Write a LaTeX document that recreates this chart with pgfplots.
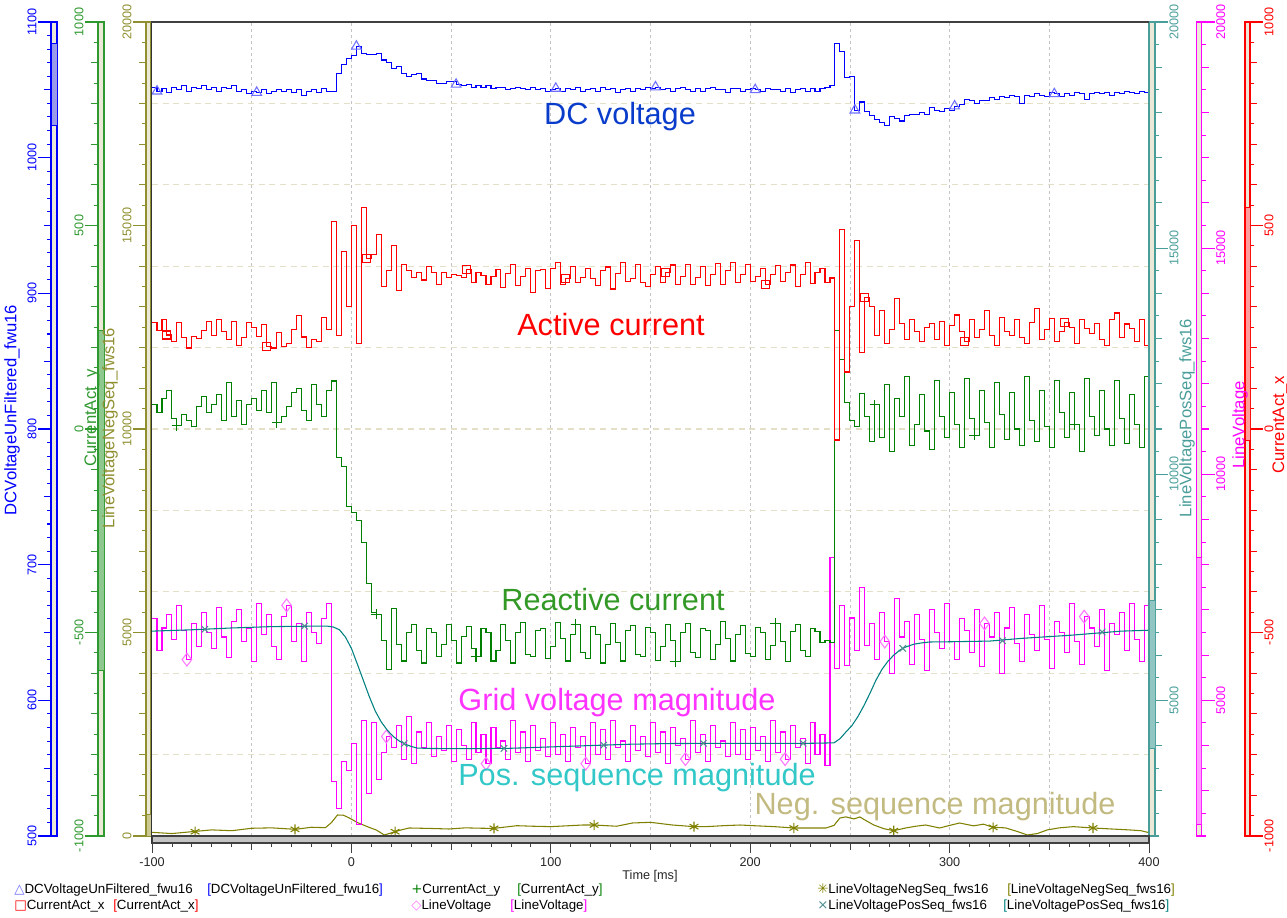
\documentclass[border=0pt]{standalone}
\usepackage{fontspec}
\setmainfont{Liberation Sans}
\newfontfamily\symfont{DejaVu Sans}
\usepackage{pgfplots}
\pgfplotsset{compat=1.18}

\definecolor{dcblue}{HTML}{0000FF}
\definecolor{dcbluel}{HTML}{9A9AEA}
\definecolor{trimark}{HTML}{7070FF}
\definecolor{cxred}{HTML}{FF0000}
\definecolor{cxredl}{HTML}{FF9C9C}
\definecolor{cygreen}{HTML}{008000}
\definecolor{cyaxis}{HTML}{2E992E}
\definecolor{cygreenl}{HTML}{8FC88F}
\definecolor{lvmag}{HTML}{FF00FF}
\definecolor{lvmagl}{HTML}{FF9CFF}
\definecolor{lvmark}{HTML}{FF77FF}
\definecolor{negol}{HTML}{808000}
\definecolor{negaxis}{HTML}{8F8F30}
\definecolor{negoll}{HTML}{CBC991}
\definecolor{posteal}{HTML}{008080}
\definecolor{posaxis}{HTML}{4A9E9A}
\definecolor{postl}{HTML}{92C6C2}
\definecolor{posmark}{HTML}{4F8F8F}
\definecolor{barbg}{HTML}{ECE9D8}
\definecolor{bandgray}{HTML}{C4C4C4}
\definecolor{vgrid}{HTML}{C4C4C4}
\definecolor{hgrid}{HTML}{E4E0C8}
\definecolor{txtblue}{HTML}{0A3CCC}
\definecolor{txtgreen}{HTML}{339926}
\definecolor{txtmag}{HTML}{FF33FF}
\definecolor{txtteal}{HTML}{33C8C8}
\definecolor{txtneg}{HTML}{C2BA80}

\newcommand\tickfont{\fontsize{9.5}{11}\selectfont}
\newcommand\legfont{\fontsize{10}{12}\selectfont}
\newcommand\titlefont{\fontsize{12.5}{14}\selectfont}
\newcommand\bigfont{\fontsize{23}{27}\selectfont}

\pgfplotsset{
  plotarea/.style={
    scale only axis, width=747.75pt, height=610.5pt,
    at={(114pt,60.75pt)}, anchor=south west,
    xmin=-100, xmax=400, clip=true,
  },
  dataaxis/.style={plotarea, hide axis},
  sidebar/.style={
    scale only axis, height=610.5pt, anchor=south west,
    xmin=0, xmax=1, xtick=\empty,
    axis background/.style={fill=barbg},
    tick align=outside, scaled y ticks=false,
    major tick length=9.75pt, minor tick length=3pt,
    extra tick style={major tick length=5.25pt},
    extra y tick labels={},
    yticklabel style={rotate=90, font=\tickfont, inner sep=1pt},
    /pgf/number format/assume math mode=true,
    /pgf/number format/1000 sep={},
  },
  leftbar/.style={sidebar, ytick pos=left, yticklabel style={anchor=south, text=#1},
    axis line style={draw=#1, line width=0.8pt}, tick style={draw=#1, line width=0.8pt}},
  rightbar/.style={sidebar, ytick pos=right, yticklabel pos=right, yticklabel style={anchor=north, text=#1},
    axis line style={draw=#1, line width=0.8pt}, tick style={draw=#1, line width=0.8pt}},
}

\begin{document}
\begin{tikzpicture}
\useasboundingbox (0,0) rectangle (965.25pt,687.75pt);

% grid lines of the plot area
\begin{axis}[plotarea, ymin=0, ymax=20000,
  axis line style={draw=none}, major tick length=0pt, tick style={draw=none},
  xtick={-50,0,...,350}, ytick={2000,4000,...,18000},
  xticklabels={}, yticklabels={},
  xmajorgrids, ymajorgrids,
  x grid style={vgrid, line width=0.6pt, dash pattern=on 2.5pt off 2pt},
  y grid style={hgrid, line width=0.8pt, dash pattern=on 4.5pt off 3.5pt}]
\end{axis}

% negative sequence magnitude
\begin{axis}[dataaxis, ymin=0, ymax=20000]
\addplot[negol, line width=0.8pt] coordinates {
(-100,90) (-90,60) (-80,106) (-70,150) (-60,130) (-50,190) (-40,200) (-28,164)
(-20,215) (-13,205) (-10,330) (-7,516) (-4,510) (-1,442) (3,330) (6,270)
(9,210) (12.5,147) (16.5,25) (22,106) (25,150) (29,197) (40,185) (49,172)
(57,200) (66,190) (71.5,188) (83,253) (91,240) (100,230) (108,250) (116,270)
(121.7,270) (133,240) (141,320) (150,336) (161,270) (171.8,230) (178,230) (187,255)
(195,270) (203,250) (212,230) (221.9,197) (228,197) (238,197) (242,260) (245,442)
(248,470) (252,420) (255,467) (258,380) (262,270) (267,180) (272,131) (278,197)
(283,240) (288,270) (295,197) (300,260) (305,319) (312,250) (317,290) (321.8,213)
(328,200) (334,110) (339,25) (344,60) (349,150) (355,200) (362,230) (371.9,197)
(382,170) (390,150) (396,130) (400,82)};
\addplot[only marks, mark=asterisk, mark size=3.8pt, mark options={draw=negol, line width=0.8pt}] coordinates {
(-78.4,106) (-28.3,164) (21.9,106) (71.5,188) (121.7,270) (171.8,230) (221.9,197) (272,131) (321.8,213) (371.9,197)};
\end{axis}

% grid voltage magnitude
\begin{axis}[dataaxis, ymin=2000, ymax=20000]
\addplot[lvmag, line width=0.8pt, const plot, mark=diamond, mark size=4.8pt,
  mark options={draw=lvmark, fill=none, line width=0.8pt},
  mark indices={8,28,48,68,88,108,128,148,168,188}] coordinates {
(-100,6800) (-97.5,6100) (-95,6600) (-92.5,6900) (-90,6350) (-87.5,7100) (-85,6550) (-82.5,5900)
(-80,6700) (-77.5,6200) (-75,6950) (-72.5,6500) (-70,6150) (-67.5,7050) (-65,6400) (-62.5,5950)
(-60,6750) (-57.5,7000) (-55,6300) (-52.5,6600) (-50,5850) (-47.5,7150) (-45,6450) (-42.5,6900)
(-40,6200) (-37.5,5900) (-35,6850) (-32.5,7100) (-30,6300) (-27.5,6700) (-25,5850) (-22.5,6950)
(-20,6500) (-17.5,6250) (-15,6800) (-12.5,7150) (-10,3200) (-7.5,2600) (-5,3650) (-2.5,3450)
(0,4050) (2.5,2250) (5,4550) (7.5,2950) (10,4500) (12.5,3250) (15,3850) (17.5,4200)
(20,3950) (22.5,4450) (25,3700) (27.5,4650) (30,3600) (32.5,4300) (35,3950) (37.5,4500)
(40,3750) (42.5,4200) (45,3900) (47.5,4450) (50,3650) (52.5,4350) (55,4000) (57.5,3700)
(60,4500) (62.5,3850) (65,4250) (67.5,3600) (70,4400) (72.5,3950) (75,4100) (77.5,3700)
(80,4550) (82.5,3850) (85,4300) (87.5,3650) (90,4450) (92.5,3900) (95,4150) (97.5,3750)
(100,4500) (102.5,3800) (105,4250) (107.5,3650) (110,4400) (112.5,3950) (115,4200) (117.5,3600)
(120,4500) (122.5,3800) (125,4350) (127.5,3700) (130,4550) (132.5,3950) (135,4100) (137.5,3650)
(140,4450) (142.5,3900) (145,4200) (147.5,3750) (150,4500) (152.5,3850) (155,4300) (157.5,3600)
(160,4400) (162.5,4000) (165,4150) (167.5,3700) (170,4550) (172.5,3850) (175,4250) (177.5,3650)
(180,4450) (182.5,3950) (185,4100) (187.5,3750) (190,4500) (192.5,3800) (195,4350) (197.5,3700)
(200,4400) (202.5,3900) (205,4200) (207.5,3650) (210,4550) (212.5,3850) (215,4300) (217.5,3700)
(220,4450) (222.5,3950) (225,4150) (227.5,3600) (230,4500) (232.5,3800) (235,4250) (237.5,3550)
(240,8150) (242.5,5700) (245,7100) (247.5,5780) (250,6820) (252.5,6100) (255,7500) (257.5,6220)
(260,6700) (262.5,5900) (265,6950) (267.5,6300) (270,5600) (272.5,7250) (275,6400) (277.5,6750)
(280,5800) (282.5,6900) (285,6350) (287.5,5650) (290,7000) (292.5,6500) (295,6150) (297.5,7150)
(300,6300) (302.5,5900) (305,6800) (307.5,6550) (310,6050) (312.5,7000) (315,5750) (317.5,6700)
(320,6400) (322.5,6950) (325,5600) (327.5,6600) (330,7050) (332.5,6250) (335,5850) (337.5,6900)
(340,6450) (342.5,6100) (345,7100) (347.5,6350) (350,5700) (352.5,6750) (355,6500) (357.5,6050)
(360,7150) (362.5,6300) (365,5800) (367.5,6850) (370,6600) (372.5,6200) (375,7000) (377.5,5650)
(380,6700) (382.5,6450) (385,6950) (387.5,6100) (390,7150) (392.5,6350) (395,5850) (397.5,7100)
(400,6400)};
\end{axis}

% positive sequence magnitude
\begin{axis}[dataaxis, ymin=2000, ymax=20000]
\addplot[posteal, line width=0.8pt] coordinates {
(-100,6530) (-80,6560) (-60,6600) (-40,6630) (-20,6640) (-12,6640) (-9,6620) (-6,6560)
(-3,6400) (0,6150) (3,5800) (6,5440) (9,5080) (12,4760) (15,4520) (18,4340)
(21,4200) (24,4100) (27,4030) (30,3980) (33,3945) (40,3935) (60,3930) (80,3940)
(100,3970) (120,4000) (140,4030) (160,4045) (200,4050) (230,4050) (242,4060) (245,4150)
(248,4300) (251,4440) (254,4640) (257,4880) (260,5150) (263,5440) (266,5680) (269,5860)
(272,6000) (275,6110) (278,6180) (282,6240) (286,6270) (290,6290) (300,6295) (320,6310)
(336,6370) (361,6440) (386,6530) (400,6550)};
\addplot[only marks, mark=x, mark size=3.4pt, mark options={draw=posmark, line width=0.8pt}] coordinates {
(-73.5,6570) (-23.5,6640) (26.5,4040) (76.5,3938) (126.5,4010) (176.5,4050) (226.5,4050) (276.5,6150) (326.5,6320) (376.5,6510)};
\end{axis}

% reactive current
\begin{axis}[dataaxis, ymin=-1000, ymax=1000]
\addplot[cygreen, line width=0.8pt, const plot, mark=+, mark size=3.8pt,
  mark options={draw=cygreen, line width=0.8pt},
  mark indices={6,26,46,66,86,106,126,146,166,186}] coordinates {
(-100,60) (-97.5,40) (-95,75) (-92.5,95) (-90,25) (-87.5,8) (-85,35) (-82.5,20)
(-80,5) (-77.5,55) (-75,80) (-72.5,40) (-70,60) (-67.5,85) (-65,20) (-62.5,115)
(-60,30) (-57.5,70) (-55,10) (-52.5,60) (-50,75) (-47.5,45) (-45,95) (-42.5,40)
(-40,115) (-37.5,15) (-35,30) (-32.5,55) (-30,90) (-27.5,100) (-25,45) (-22.5,20)
(-20,110) (-17.5,60) (-15,30) (-12.5,95) (-10,118) (-7.5,-69) (-5,-93) (-2.5,-190)
(0,-205) (2.5,-225) (5,-280) (7.5,-380) (10,-452) (12.5,-455) (15,-520) (17.5,-590)
(20,-440) (22.5,-530) (25,-570) (27.5,-500) (30,-480) (32.5,-545) (35,-575) (37.5,-490)
(40,-500) (42.5,-560) (45,-530) (47.5,-480) (50,-520) (52.5,-575) (55,-510) (57.5,-485)
(60,-540) (62.5,-560) (65,-490) (67.5,-500) (70,-570) (72.5,-545) (75,-480) (77.5,-520)
(80,-575) (82.5,-500) (85,-475) (87.5,-555) (90,-560) (92.5,-495) (95,-490) (97.5,-565)
(100,-535) (102.5,-475) (105,-515) (107.5,-570) (110,-505) (112.5,-480) (115,-550) (117.5,-565)
(120,-485) (122.5,-505) (125,-575) (127.5,-530) (130,-478) (132.5,-525) (135,-570) (137.5,-495)
(140,-482) (142.5,-555) (145,-560) (147.5,-488) (150,-500) (152.5,-568) (155,-535) (157.5,-480)
(160,-520) (162.5,-572) (165,-500) (167.5,-478) (170,-548) (172.5,-562) (175,-490) (177.5,-495)
(180,-566) (182.5,-530) (185,-474) (187.5,-515) (190,-570) (192.5,-505) (195,-482) (197.5,-552)
(200,-560) (202.5,-488) (205,-500) (207.5,-566) (210,-532) (212.5,-478) (215,-522) (217.5,-572)
(220,-498) (222.5,-480) (225,-545) (227.5,-560) (230,-490) (232.5,-498) (235,-525) (237.5,-520)
(240,-525) (242.5,243) (245,170) (247.5,66) (250,22) (252.5,5) (255,88) (257.5,30)
(260,-30) (262.5,60) (265,-20) (267.5,110) (270,-55) (272.5,75) (275,30) (277.5,130)
(280,-40) (282.5,10) (285,85) (287.5,-5) (290,-50) (292.5,120) (295,30) (297.5,-20)
(300,90) (302.5,10) (305,-45) (307.5,125) (310,25) (312.5,-15) (315,95) (317.5,15)
(320,-45) (322.5,115) (325,35) (327.5,-25) (330,90) (332.5,0) (335,-40) (337.5,130)
(340,20) (342.5,-30) (345,95) (347.5,5) (350,-45) (352.5,120) (355,40) (357.5,-20)
(360,90) (362.5,10) (365,-55) (367.5,125) (370,30) (372.5,-15) (375,95) (377.5,0)
(380,-40) (382.5,120) (385,25) (387.5,-35) (390,85) (392.5,10) (395,-45) (397.5,130)
(400,40)};
\end{axis}

% active current
\begin{axis}[dataaxis, ymin=-1000, ymax=1000]
\addplot[cxred, line width=0.8pt, const plot, mark=square, mark size=3pt,
  mark options={draw=cxred, fill=none, line width=0.8pt},
  mark indices={4,24,44,64,84,104,124,144,164,184}] coordinates {
(-100,262) (-97.5,241) (-95,270) (-92.5,231) (-90,214) (-87.5,262) (-85,224) (-82.5,199)
(-80,228) (-77.5,222) (-75,242) (-72.5,265) (-70,230) (-67.5,268) (-65,240) (-62.5,219)
(-60,263) (-57.5,205) (-55,225) (-52.5,262) (-50,250) (-47.5,228) (-45,256) (-42.5,203)
(-40,199) (-37.5,238) (-35,203) (-32.5,209) (-30,245) (-27.5,278) (-25,226) (-22.5,200)
(-20,220) (-17.5,214) (-15,273) (-12.5,244) (-10,509) (-7.5,230) (-5,436) (-2.5,300)
(0,501) (2.5,211) (5,545) (7.5,420) (10,428) (12.5,477) (15,351) (17.5,390)
(20,450) (22.5,341) (25,405) (27.5,390) (30,372) (32.5,385) (35,366) (37.5,400)
(40,385) (42.5,355) (45,385) (47.5,372) (50,380) (52.5,376) (55,372) (57.5,393)
(60,360) (62.5,385) (65,378) (67.5,355) (70,375) (72.5,392) (75,347) (77.5,382)
(80,405) (82.5,352) (85,375) (87.5,395) (90,335) (92.5,390) (95,392) (97.5,345)
(100,395) (102.5,410) (105,356) (107.5,370) (110,400) (112.5,360) (115,372) (117.5,395)
(120,370) (122.5,352) (125,390) (127.5,398) (130,344) (132.5,382) (135,410) (137.5,362)
(140,370) (142.5,405) (145,360) (147.5,350) (150,380) (152.5,400) (155,360) (157.5,385)
(160,403) (162.5,354) (165,375) (167.5,405) (170,355) (172.5,372) (175,400) (177.5,352)
(180,380) (182.5,407) (185,356) (187.5,390) (190,410) (192.5,360) (195,380) (197.5,405)
(200,362) (202.5,375) (205,395) (207.5,355) (210,380) (212.5,402) (215,362) (217.5,385)
(220,403) (222.5,350) (225,380) (227.5,408) (230,358) (232.5,385) (235,395) (237.5,360)
(240,371) (242.5,-27) (245,489) (247.5,140) (250,300) (252.5,464) (255,187) (257.5,322)
(260,300) (262.5,230) (265,290) (267.5,210) (270,245) (272.5,320) (275,260) (277.5,220)
(280,270) (282.5,240) (285,215) (287.5,250) (290,260) (292.5,220) (295,265) (297.5,205)
(300,255) (302.5,280) (305,240) (307.5,215) (310,270) (312.5,225) (315,245) (317.5,290)
(320,230) (322.5,205) (325,275) (327.5,240) (330,230) (332.5,270) (335,225) (337.5,210)
(340,262) (342.5,295) (345,220) (347.5,245) (350,272) (352.5,215) (355,240) (357.5,262)
(360,250) (362.5,210) (365,270) (367.5,248) (370,235) (372.5,260) (375,220) (377.5,205)
(380,270) (382.5,285) (385,225) (387.5,258) (390,248) (392.5,215) (395,270) (397.5,205)
(400,290)};
\end{axis}

% DC link voltage
\begin{axis}[dataaxis, ymin=500, ymax=1100]
\addplot[dcblue, line width=0.8pt, const plot, mark=triangle, mark size=4.2pt,
  mark options={draw=trimark, fill=none, line width=0.8pt},
  mark indices={2,22,42,62,82,102,122,142,162,182}] coordinates {
(-100,1052) (-97.5,1049) (-95,1051) (-92.5,1048) (-90,1052) (-87.5,1050) (-85,1053) (-82.5,1049)
(-80,1052) (-77.5,1051) (-75,1053) (-72.5,1050) (-70,1052) (-67.5,1049) (-65,1052) (-62.5,1051)
(-60,1053) (-57.5,1049) (-55,1050) (-52.5,1047) (-50,1049) (-47.5,1048) (-45,1050) (-42.5,1047)
(-40,1049) (-37.5,1050) (-35,1049) (-32.5,1050) (-30,1048) (-27.5,1050) (-25,1046) (-22.5,1049)
(-20,1050) (-17.5,1048) (-15,1051) (-12.5,1049) (-10,1049) (-7.5,1062) (-5,1069) (-2.5,1073)
(0,1075) (2.5,1082) (5,1077) (7.5,1076) (10,1076) (12.5,1077) (15,1072) (17.5,1070)
(20,1066) (22.5,1067) (25,1062) (27.5,1060) (30,1061) (32.5,1062) (35,1058) (37.5,1057)
(40,1057) (42.5,1055) (45,1055) (47.5,1056) (50,1056) (52.5,1054) (55,1053) (57.5,1054)
(60,1052) (62.5,1053) (65,1052) (67.5,1053) (70,1051) (72.5,1052) (75,1052) (77.5,1050)
(80,1051) (82.5,1052) (85,1051) (87.5,1050) (90,1052) (92.5,1050) (95,1051) (97.5,1049)
(100,1050) (102.5,1051) (105,1049) (107.5,1051) (110,1050) (112.5,1052) (115,1049) (117.5,1050)
(120,1051) (122.5,1049) (125,1052) (127.5,1050) (130,1051) (132.5,1048) (135,1050) (137.5,1051)
(140,1049) (142.5,1051) (145,1050) (147.5,1052) (150,1051) (152.5,1052) (155,1050) (157.5,1051)
(160,1049) (162.5,1051) (165,1052) (167.5,1050) (170,1049) (172.5,1051) (175,1049) (177.5,1051)
(180,1052) (182.5,1050) (185,1050) (187.5,1048) (190,1051) (192.5,1051) (195,1049) (197.5,1050)
(200,1051) (202.5,1050) (205,1049) (207.5,1051) (210,1050) (212.5,1050) (215,1049) (217.5,1051)
(220,1048) (222.5,1050) (225,1051) (227.5,1049) (230,1051) (232.5,1049) (235,1051) (237.5,1052)
(240,1053) (242.5,1084) (245,1078) (247.5,1059) (250,1060) (252.5,1035) (255,1041) (257.5,1034)
(260,1031) (262.5,1028) (265,1026) (267.5,1024) (270,1030) (272.5,1029) (275,1027) (277.5,1031)
(280,1032) (282.5,1032) (285,1033) (287.5,1032) (290,1037) (292.5,1035) (295,1034) (297.5,1036)
(300,1035) (302.5,1038) (305,1039) (307.5,1043) (310,1042) (312.5,1040) (315,1042) (317.5,1042)
(320,1044) (322.5,1043) (325,1045) (327.5,1044) (330,1046) (332.5,1045) (335,1040) (337.5,1046)
(340,1045) (342.5,1047) (345,1046) (347.5,1045) (350,1048) (352.5,1047) (355,1045) (357.5,1047)
(360,1046) (362.5,1048) (365,1047) (367.5,1043) (370,1047) (372.5,1048) (375,1047) (377.5,1048)
(380,1046) (382.5,1048) (385,1047) (387.5,1049) (390,1048) (392.5,1047) (395,1049) (397.5,1048)
(400,1048)};
\end{axis}

% left value axes
\begin{axis}[leftbar=dcblue, at={(38.25pt,60.75pt)}, width=4.5pt, ymin=500, ymax=1100,
  ytick={500,600,...,1100}, minor ytick={500,510,...,1100}, extra y ticks={550,650,...,1050}]
\addplot[draw=dcblue, fill=dcbluel, line width=0.6pt] coordinates {(0,1024) (1,1024) (1,1084) (0,1084) (0,1024)};
\end{axis}
\begin{axis}[leftbar=cyaxis, at={(73.5pt,60.75pt)}, width=4.5pt, ymin=-1000, ymax=1000,
  ytick={-1000,-500,0,500,1000}, minor ytick={-1000,-950,...,1000},
  extra y ticks={-900,-800,-700,-600,-400,-300,-200,-100,100,200,300,400,600,700,800,900}]
\addplot[draw=cyaxis, fill=cygreenl, line width=0.6pt] coordinates {(0,-593) (1,-593) (1,243) (0,243) (0,-593)};
\end{axis}
\begin{axis}[leftbar=negaxis, at={(109.5pt,60.75pt)}, width=3.75pt, ymin=0, ymax=20000,
  ytick={0,5000,10000,15000,20000}, minor ytick={0,500,...,20000},
  extra y ticks={1000,2000,3000,4000,6000,7000,8000,9000,11000,12000,13000,14000,16000,17000,18000,19000}]
\addplot[draw=negaxis, fill=negoll, line width=0.6pt] coordinates {(0,0) (1,0) (1,520) (0,520) (0,0)};
\end{axis}

% right value axes
\begin{axis}[rightbar=posaxis, at={(861.75pt,60.75pt)}, width=4.5pt, ymin=2000, ymax=20000,
  ytick={5000,10000,15000,20000}, minor ytick={2000,2500,...,20000},
  extra y ticks={3000,4000,6000,7000,8000,9000,11000,12000,13000,14000,16000,17000,18000,19000}]
\addplot[draw=posaxis, fill=postl, line width=0.6pt] coordinates {(0,3930) (1,3930) (1,7200) (0,7200) (0,3930)};
\end{axis}
\begin{axis}[rightbar=lvmag, at={(897.5pt,60.75pt)}, width=3.75pt, ymin=2000, ymax=20000,
  ytick={5000,10000,15000,20000}, minor ytick={2000,2500,...,20000},
  extra y ticks={3000,4000,6000,7000,8000,9000,11000,12000,13000,14000,16000,17000,18000,19000}]
\addplot[draw=lvmag, fill=lvmagl, line width=0.6pt] coordinates {(0,2250) (1,2250) (1,8150) (0,8150) (0,2250)};
\end{axis}
\begin{axis}[rightbar=cxred, at={(933.75pt,60.75pt)}, width=3.75pt, ymin=-1000, ymax=1000,
  ytick={-1000,-500,0,500,1000}, minor ytick={-1000,-950,...,1000},
  extra y ticks={-900,-800,-700,-600,-400,-300,-200,-100,100,200,300,400,600,700,800,900}]
\addplot[draw=cxred, fill=cxredl, line width=0.6pt] coordinates {(0,-27) (1,-27) (1,545) (0,545) (0,-27)};
\end{axis}

% time axis band
\begin{axis}[scale only axis, width=747.75pt, height=5.25pt, at={(114pt,55.5pt)}, anchor=south west,
  xmin=-100, xmax=400, ymin=0, ymax=1, ytick=\empty,
  axis background/.style={fill=bandgray},
  axis line style={draw=black!75, line width=0.8pt},
  xtick pos=bottom, tick align=outside,
  xtick={-100,0,...,400}, minor xtick={-100,-90,...,400},
  extra x ticks={-50,50,...,350}, extra x tick labels={},
  extra tick style={major tick length=5.25pt},
  major tick length=7.5pt, minor tick length=3pt,
  tick style={draw=black!75, line width=0.6pt},
  xticklabel style={font=\tickfont, text=black!85},
  /pgf/number format/assume math mode=true]
\end{axis}

% frame edges
\draw[black!80, line width=1.1pt] (113.6pt,55.5pt) -- (113.6pt,671.25pt);
\draw[black!75, line width=1.1pt] (113.6pt,671.25pt) -- (861.75pt,671.25pt);

\begin{scope}[x=0.75pt, y=-0.75pt, yshift=687.75pt]
% axis titles
\node[rotate=90, text=dcblue, font=\titlefont] at (12,410) {DCVoltageUnFiltered\_fwu16};
\node[rotate=90, text=cyaxis, font=\titlefont] at (92,418) {CurrentAct\_y};
\node[rotate=90, text=negaxis, font=\titlefont] at (110,428) {LineVoltageNegSeq\_fws16};
\node[rotate=90, text=posaxis, font=\titlefont] at (1187,418) {LineVoltagePosSeq\_fws16};
\node[rotate=90, text=lvmag, font=\titlefont] at (1240,425) {LineVoltage};
\node[rotate=90, text=cxred, font=\titlefont] at (1280,425) {CurrentAct\_x};
% curve annotations
\node[text=txtblue, font=\bigfont] at (620,117) {DC voltage};
\node[text=cxred, font=\bigfont] at (611,325) {Active current};
\node[text=txtgreen, font=\bigfont] at (613,600) {Reactive current};
\node[text=txtmag, font=\bigfont] at (617,703) {Grid voltage magnitude};
\node[text=txtteal, font=\bigfont] at (637,778) {Pos. sequence magnitude};
\node[text=txtneg, font=\bigfont] at (935,807) {Neg. sequence magnitude};
% time label
\node[font=\tickfont, text=black!85] at (650,876) {Time [ms]};
% legend
\node[anchor=west, font=\legfont, inner sep=0pt] at (14,890) {{\symfont\textcolor{trimark}{△}}DCVoltageUnFiltered\_fwu16};
\node[anchor=west, font=\legfont, inner sep=0pt] at (207,890) {\textcolor{dcblue}{[}DCVoltageUnFiltered\_fwu16\textcolor{dcblue}{]}};
\node[anchor=west, font=\legfont, inner sep=0pt] at (14,906) {{\symfont\textcolor{cxred}{□}}CurrentAct\_x};
\node[anchor=west, font=\legfont, inner sep=0pt] at (113,906) {\textcolor{cxred}{[}CurrentAct\_x\textcolor{cxred}{]}};
\node[anchor=west, font=\legfont, inner sep=0pt] at (411,890) {{\symfont\textcolor{cygreen}{+}}CurrentAct\_y};
\node[anchor=west, font=\legfont, inner sep=0pt] at (517,890) {\textcolor{cygreen}{[}CurrentAct\_y\textcolor{cygreen}{]}};
\node[anchor=west, font=\legfont, inner sep=0pt] at (411,906) {{\symfont\textcolor{lvmark}{◇}}LineVoltage};
\node[anchor=west, font=\legfont, inner sep=0pt] at (510,906) {\textcolor{lvmag}{[}LineVoltage\textcolor{lvmag}{]}};
\node[anchor=west, font=\legfont, inner sep=0pt] at (817,890) {{\symfont\textcolor{negol}{✳}}LineVoltageNegSeq\_fws16};
\node[anchor=west, font=\legfont, inner sep=0pt] at (1007,890) {\textcolor{negol}{[}LineVoltageNegSeq\_fws16\textcolor{negol}{]}};
\node[anchor=west, font=\legfont, inner sep=0pt] at (817,906) {{\symfont\textcolor{posmark}{×}}LineVoltagePosSeq\_fws16};
\node[anchor=west, font=\legfont, inner sep=0pt] at (1003,906) {\textcolor{posteal}{[}LineVoltagePosSeq\_fws16\textcolor{posteal}{]}};
\end{scope}
\end{tikzpicture}
\end{document}
